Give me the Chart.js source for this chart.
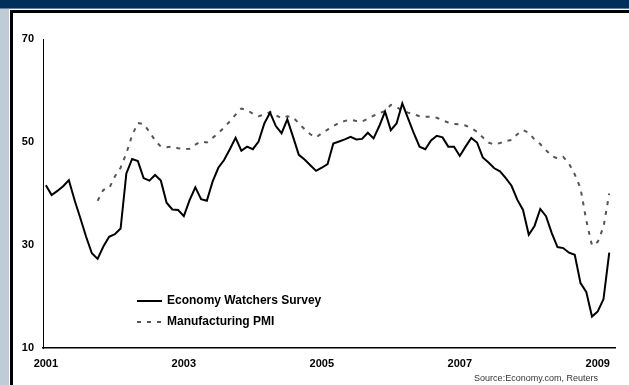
<!DOCTYPE html>
<html>
<head>
<meta charset="utf-8">
<script src="https://cdn.jsdelivr.net/npm/chart.js@4/dist/chart.umd.min.js"></script>
<style>
    html, body { margin: 0; padding: 0; background: #fff; }
    #wrap { position: relative; width: 629px; height: 385px; overflow: hidden; background: #fff; }
    #topband { position: absolute; left: 0; top: 0; width: 629px; height: 8px; background: #00305a; border-bottom: 1px solid #5f7f9f; }
    #sidestrip { position: absolute; left: 0; top: 9px; width: 9px; height: 376px; background: #bfccd7; }
    #frame { position: absolute; left: 10px; top: 10px; width: 629px; height: 385px; border-left: 3px solid #000; border-top: 3px solid #000; }
    #chart { position: absolute; left: 0; top: 0; }
    #source { position: absolute; right: 31px; top: 373px; font: 9px "Liberation Sans", Arial, sans-serif; color: #333; }
</style>
</head>
<body>
<div id="wrap">
    <div id="topband"></div>
    <div id="sidestrip"></div>
    <div id="frame"></div>
    <canvas id="chart" width="629" height="385"></canvas>
    <div id="source">Source:Economy.com, Reuters</div>
</div>
<script>
// Données mensuelles depuis janvier 2001
const startYear = 2001;
const yearTicks = [2001, 2003, 2005, 2007, 2009];
const valueTicks = [10, 30, 50, 70];

const ewsLabel = 'Economy Watchers Survey';
const pmiLabel = 'Manufacturing PMI';

const ewsValues = [
    41.6, 39.7, 40.5, 41.4, 42.6, 38.7, 35.2, 31.6, 28.4, 27.3, 29.7, 31.6,
    32.1, 33.2, 43.9, 46.7, 46.3, 43.0, 42.5, 43.6, 42.5, 38.2, 36.9, 36.8,
    35.6, 38.7, 41.2, 38.9, 38.6, 42.3, 45.0, 46.5, 48.6, 50.8, 48.3, 49.1,
    48.6, 50.1, 53.6, 55.7, 53.1, 51.7, 54.4, 51.0, 47.5, 46.6, 45.5, 44.4,
    45.0, 45.7, 49.7, 50.1, 50.5, 51.0, 50.5, 50.6, 51.8, 50.7, 53.1, 55.9,
    52.3, 53.6, 57.5, 54.6, 51.7, 49.1, 48.6, 50.3, 51.2, 50.9, 49.1, 49.1,
    47.3, 49.1, 50.8, 49.9, 47.0, 46.0, 44.9, 44.3, 43.0, 41.5, 38.8, 36.8,
    32.0, 33.7, 37.0, 35.6, 32.3, 29.6, 29.4, 28.5, 28.1, 22.6, 20.9, 16.1,
    17.1, 19.5, 28.5
];

const pmiValues = [
    null, null, null, null, null, null, null, null, null, 38.6, 40.7, 41.0,
    43.3, 45.0, 47.8, 51.3, 53.7, 53.5, 52.0, 50.3, 49.1, 49.0, 49.1, 48.8,
    48.6, 48.7, 49.5, 50.1, 49.9, 50.8, 51.7, 52.8, 54.0, 55.3, 56.5, 56.2,
    55.5, 55.0, 55.3, 55.8, 55.2, 54.6, 55.0, 54.8, 53.6, 52.5, 51.5, 50.9,
    51.7, 52.4, 53.1, 53.7, 54.1, 54.3, 54.1, 54.0, 54.5, 55.1, 55.6, 56.0,
    57.2, 56.8, 56.1, 55.7, 55.4, 55.0, 54.9, 54.9, 54.7, 54.2, 53.8, 53.5,
    53.4, 53.2, 52.7, 52.0, 50.9, 49.9, 49.5, 49.8, 50.2, 50.4, 51.5, 52.3,
    51.8, 50.5, 49.6, 48.4, 47.3, 46.8, 47.1, 45.8, 43.7, 41.0, 34.8, 29.9,
    30.6, 33.5, 40.0
];

const FONT = '"Liberation Sans", Arial, sans-serif';

function toPoints(values) {
    return values
        .map((v, i) => ({ x: i, y: v }))
        .filter(p => p.y !== null);
}

// Légende dessinée dans la zone du graphique, sous les courbes
const insideLegend = {
    id: 'insideLegend',
    afterDraw(chart) {
        const c = chart.ctx;
        const left = 137, lineLen = 25, rowY = [301, 322];
        chart.data.datasets.forEach((ds, k) => {
            const y = rowY[k];
            c.save();
            c.strokeStyle = ds.borderColor;
            c.lineWidth = ds.borderWidth;
            c.setLineDash(ds.borderDash || []);
            c.beginPath();
            c.moveTo(left, y);
            c.lineTo(left + lineLen, y);
            c.stroke();
            c.setLineDash([]);
            c.fillStyle = '#000';
            c.font = 'bold 12px ' + FONT;
            c.textBaseline = 'middle';
            c.fillText(ds.label, left + lineLen + 5, y);
            c.restore();
        });
    }
};

const ctx = document.getElementById('chart').getContext('2d');
new Chart(ctx, {
    type: 'line',
    data: {
        datasets: [
            {
                label: ewsLabel,
                data: toPoints(ewsValues),
                borderColor: '#000',
                borderWidth: 2,
                pointRadius: 0,
                tension: 0
            },
            {
                label: pmiLabel,
                data: toPoints(pmiValues),
                borderColor: '#555',
                borderWidth: 2,
                borderDash: [4, 6],
                pointRadius: 0,
                tension: 0
            }
        ]
    },
    options: {
        responsive: false,
        animation: false,
        layout: { padding: { left: 0, top: 39, right: 14, bottom: 0 } },
        plugins: {
            legend: { display: false },
            tooltip: { enabled: false }
        },
        scales: {
            x: {
                type: 'linear',
                min: -0.5,
                max: 99,
                grid: { display: false, drawTicks: false },
                border: { display: true, color: '#000', width: 1.5 },
                afterBuildTicks: s => { s.ticks = yearTicks.map(y => ({ value: (y - startYear) * 12 })); },
                afterFit: s => { s.height = 37; },
                ticks: {
                    autoSkip: false,
                    maxRotation: 0,
                    padding: 9,
                    color: '#000',
                    font: { family: FONT, size: 11, weight: 'bold' },
                    callback: v => String(startYear + Math.round(v / 12))
                }
            },
            y: {
                min: 10,
                max: 70,
                grid: { display: false, drawTicks: false },
                border: { display: true, color: '#000', width: 1 },
                afterBuildTicks: s => { s.ticks = valueTicks.map(v => ({ value: v })); },
                afterFit: s => { s.width = 43; },
                ticks: {
                    padding: 9,
                    color: '#000',
                    font: { family: FONT, size: 11, weight: 'bold' }
                }
            }
        }
    },
    plugins: [insideLegend]
});
</script>
</body>
</html>
